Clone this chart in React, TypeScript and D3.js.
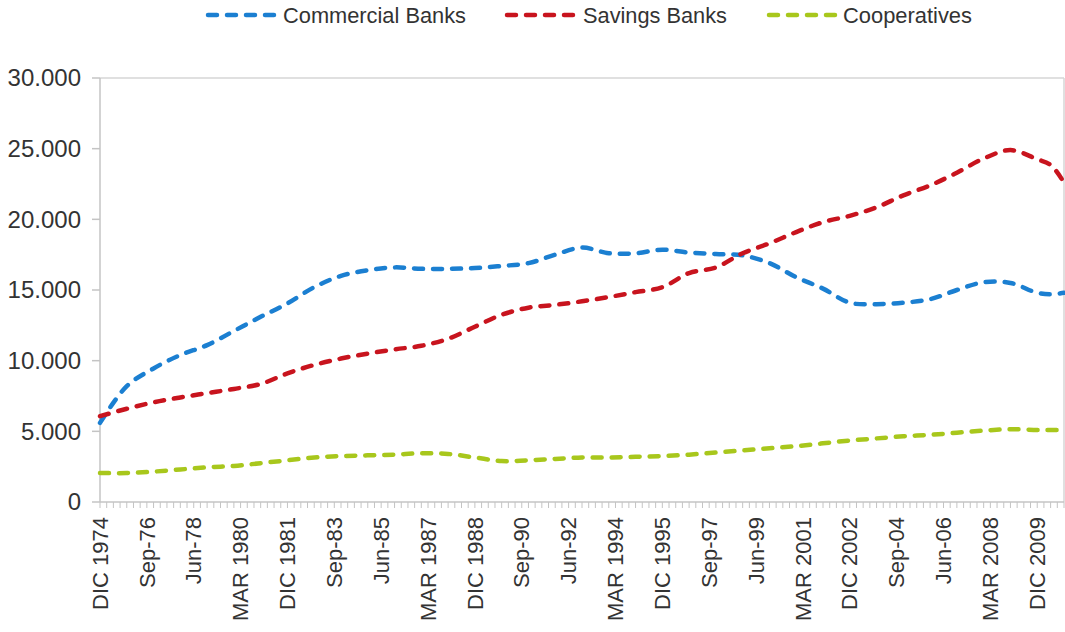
import React from "react";
import * as d3 from "d3";

// quarterly category axis, DIC 1974 .. DIC 2010, a label every 7 quarters
const tickLabels = [
  "DIC 1974", "Sep-76", "Jun-78", "MAR 1980", "DIC 1981", "Sep-83", "Jun-85",
  "MAR 1987", "DIC 1988", "Sep-90", "Jun-92", "MAR 1994", "DIC 1995", "Sep-97",
  "Jun-99", "MAR 2001", "DIC 2002", "Sep-04", "Jun-06", "MAR 2008", "DIC 2009",
];
const LABEL_EVERY = 7;
const N_QUARTERS = 145;

// quarter index (0 = DIC 1974) of each read point
const pointQuarter = [
  0, 4, 8, 12, 16, 20, 24, 28, 32, 36, 40, 44, 48, 52, 56, 60, 64, 68, 72,
  76, 80, 84, 88, 92, 96, 100, 104, 108, 112, 116, 120, 124, 128, 132, 136,
  140, 142, 144,
];

const commercial = [
  5600, 8200, 9450, 10400, 11100, 12100, 13100, 14050, 15200, 16000, 16400,
  16600, 16500, 16500, 16550, 16700, 16900, 17500, 18000, 17600, 17600, 17850,
  17650, 17550, 17450, 16900, 15900, 15100, 14100, 14000, 14100, 14350, 15000,
  15550, 15500, 14800, 14700, 14800,
];
const savings = [
  6070, 6600, 7050, 7400, 7700, 8000, 8350, 9100, 9700, 10150, 10500, 10800,
  11050, 11550, 12400, 13250, 13750, 13950, 14200, 14500, 14850, 15200, 16200,
  16600, 17600, 18300, 19100, 19800, 20250, 20850, 21700, 22400, 23300, 24300,
  24900, 24250, 23850, 22600,
];
const cooperatives = [
  2050, 2050, 2150, 2300, 2450, 2550, 2750, 2950, 3150, 3250, 3300, 3350, 3450,
  3400, 3150, 2900, 2950, 3050, 3150, 3150, 3200, 3250, 3350, 3500, 3650, 3800,
  3950, 4150, 4350, 4500, 4650, 4750, 4900, 5050, 5150, 5100, 5100, 5100,
];

const seriesNames = ["Commercial Banks", "Savings Banks", "Cooperatives"];
const seriesValues = [commercial, savings, cooperatives];
const seriesColors = ["#1b7fd1", "#c8141e", "#a8c71c"];
const yTicks = [0, 5000, 10000, 15000, 20000, 25000, 30000];

const W = 1065;
const H = 632;
const FONT = "'Liberation Sans', Arial, sans-serif";

const locale = d3.formatLocale({
  decimal: ",",
  thousands: ".",
  grouping: [3],
  currency: ["", ""],
});
const fmt = locale.format(",.0f");

const App: React.FC = () => {
  const left = 100;
  const right = 1064;
  const top = 78;
  const bottom = 502;

  const x = d3.scaleLinear().domain([0, N_QUARTERS - 1]).range([left, right]);
  const y = d3.scaleLinear().domain([0, 30000]).range([bottom, top]);

  const line = d3
    .line<number>()
    .x((_, i) => x(pointQuarter[i]))
    .y((d) => y(d))
    .curve(d3.curveCatmullRom.alpha(0.5));

  const axisColor = "#c4c4c4";
  const textColor = "#333333";

  // legend layout (line start, text start, text width)
  const legend = [
    { x0: 206, tx: 283, tw: 183 },
    { x0: 505, tx: 583, tw: 144 },
    { x0: 767, tx: 843, tw: 129 },
  ];

  return (
    <svg
      width={W}
      height={H}
      style={{ position: "absolute", left: 0, top: 0, background: "#fff" }}
      fontFamily={FONT}
    >
      {/* legend */}
      {seriesNames.map((name, i) => (
        <g key={name}>
          <line
            x1={legend[i].x0 + 2}
            x2={legend[i].x0 + 70}
            y1={15}
            y2={15}
            stroke={seriesColors[i]}
            strokeWidth={4.5}
            strokeDasharray="9 10"
            strokeLinecap="round"
          />
          <text
            x={legend[i].tx}
            y={15}
            dy="0.35em"
            fontSize={22}
            fill={textColor}
            textLength={legend[i].tw}
            lengthAdjust="spacingAndGlyphs"
          >
            {name}
          </text>
        </g>
      ))}

      {/* plot frame */}
      <line x1={left} x2={right} y1={top} y2={top} stroke="#d6d6d6" strokeWidth={1.5} />
      <line x1={right} x2={right} y1={top} y2={bottom} stroke="#d6d6d6" strokeWidth={1.5} />
      <line x1={left} x2={left} y1={top} y2={bottom} stroke={axisColor} strokeWidth={1.5} />
      <line x1={left} x2={right} y1={bottom} y2={bottom} stroke={axisColor} strokeWidth={1.5} />

      {/* y axis */}
      {yTicks.map((t) => (
        <g key={t}>
          <line x1={left - 8} x2={left} y1={y(t)} y2={y(t)} stroke={axisColor} strokeWidth={1.5} />
          <text
            x={81}
            y={y(t)}
            dy="0.35em"
            textAnchor="end"
            fontSize={24}
            fill={textColor}
          >
            {fmt(t)}
          </text>
        </g>
      ))}

      {/* x axis minor ticks, one per quarter */}
      {d3.range(N_QUARTERS).map((q) => (
        <line
          key={q}
          x1={x(q)}
          x2={x(q)}
          y1={bottom}
          y2={bottom + 6}
          stroke={axisColor}
          strokeWidth={1}
        />
      ))}

      {/* x labels */}
      {tickLabels.map((lab, i) => (
        <text
          key={lab}
          transform={`translate(${x(i * LABEL_EVERY)},${bottom + 15}) rotate(-90)`}
          dy="0.35em"
          textAnchor="end"
          fontSize={22}
          fill={textColor}
        >
          {lab}
        </text>
      ))}

      {/* series */}
      {seriesValues.map((vals, i) => (
        <path
          key={seriesNames[i]}
          d={line(vals) || ""}
          fill="none"
          stroke={seriesColors[i]}
          strokeWidth={4.5}
          strokeDasharray="9 10"
          strokeLinecap="round"
        />
      ))}
    </svg>
  );
};

export default App;
